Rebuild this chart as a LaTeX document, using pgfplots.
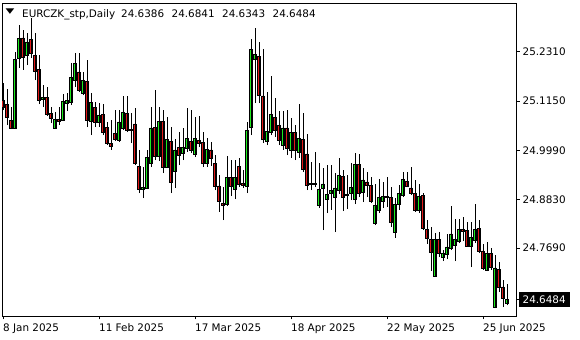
\documentclass[border=0pt]{standalone}
\usepackage{pgfplots}
\usepackage{pgfplotstable}
\usepackage{fontspec}
\setmainfont{DejaVu Sans}
\pgfplotsset{compat=1.18}
\definecolor{bull}{RGB}{30,235,30}
\definecolor{bear}{RGB}{225,25,25}

% daily candles: index, open, high, low, close
\pgfplotstableread{
i o h l c
0 25.1173 25.1573 25.0938 25.1008
1 25.1079 25.1432 25.0585 25.0773
2 25.0703 25.1008 25.0491 25.0515
3 25.0515 25.2303 25.0491 25.2138
4 25.2162 25.2938 25.1927 25.2633
5 25.2633 25.2821 25.1880 25.2185
6 25.2232 25.2750 25.1997 25.2539
7 25.2609 25.3104 25.2162 25.2279
8 25.2232 25.2750 25.1644 25.1856
9 25.1903 25.2232 25.1079 25.1173
10 25.1197 25.1526 25.1008 25.1244
11 25.1244 25.1479 25.0797 25.0844
12 25.0867 25.1008 25.0632 25.0750
13 25.0515 25.0891 25.0491 25.0726
14 25.0726 25.1008 25.0585 25.0679
15 25.0703 25.1315 25.0679 25.1149
16 25.1102 25.1338 25.0914 25.1173
17 25.1126 25.2044 25.1055 25.1715
18 25.1644 25.2279 25.1479 25.2044
19 25.1833 25.2279 25.1362 25.1409
20 25.1338 25.1833 25.1291 25.1644
21 25.1620 25.2115 25.0538 25.0703
22 25.0679 25.1338 25.0349 25.1126
23 25.1008 25.1126 25.0538 25.0656
24 25.0656 25.1102 25.0538 25.0820
25 25.0844 25.1079 25.0349 25.0420
26 25.0538 25.0656 25.0114 25.0161
27 25.0161 25.0703 24.9997 25.0091
28 25.0396 25.0938 25.0208 25.0255
29 25.0232 25.0938 25.0185 25.0656
30 25.0515 25.1268 25.0467 25.0891
31 25.0867 25.1268 25.0420 25.0467
32 25.0491 25.0867 25.0161 25.0467
33 25.0609 25.0985 24.9643 24.9690
34 24.9620 24.9997 24.8984 24.9079
35 24.9079 24.9596 24.8867 24.9126
36 24.9103 24.9997 24.9079 24.9832
37 24.9690 25.1008 24.9596 25.0515
38 25.0538 25.1409 24.9761 24.9856
39 24.9856 25.1008 24.9737 25.0679
40 25.0679 25.0938 24.9455 24.9596
41 24.9596 25.0773 24.9573 25.0255
42 25.0208 25.0538 24.8984 24.9244
43 24.9502 25.0255 24.9103 24.9997
44 25.0067 25.0420 24.9643 24.9879
45 24.9926 25.0515 24.9761 25.0067
46 25.0044 25.0985 24.9950 25.0279
47 25.0208 25.0938 24.9926 24.9997
48 24.9903 25.0773 24.9832 25.0279
49 25.0232 25.0797 25.0067 25.0161
50 25.0185 25.0420 24.9596 24.9690
51 24.9690 25.0279 24.9596 25.0020
52 24.9997 25.0185 24.9620 24.9809
53 24.9690 24.9879 24.9055 24.9150
54 24.9150 24.9408 24.8538 24.8796
55 24.8749 24.9126 24.8349 24.8702
56 24.8726 24.9856 24.8679 24.9361
57 24.9361 24.9761 24.8914 24.9150
58 24.9079 24.9761 24.8843 24.9361
59 24.9620 24.9809 24.9126 24.9197
60 24.9220 24.9526 24.9103 24.9173
61 24.9150 25.0656 24.8984 25.0467
62 25.0538 25.2609 25.0349 25.2374
63 25.2138 25.2868 25.1102 25.2256
64 25.2209 25.2539 25.1102 25.1291
65 25.1268 25.2374 25.0161 25.0255
66 25.0208 25.1362 25.0114 25.0443
67 25.0420 25.1739 25.0349 25.0844
68 25.0773 25.1221 25.0302 25.0467
69 25.0585 25.0914 25.0114 25.0232
70 25.0114 25.0914 24.9997 25.0515
71 25.0515 25.0938 24.9879 25.0044
72 24.9997 25.0750 24.9809 25.0420
73 25.0420 25.0585 24.9761 24.9997
74 24.9950 25.1079 24.9809 25.0279
75 25.0255 25.0867 24.9479 24.9549
76 24.9903 25.0373 24.9055 24.9173
77 24.9220 24.9714 24.9055 24.9197
78 24.9197 24.9950 24.9126 24.9220
79 24.8702 24.9690 24.8632 24.9079
80 24.9103 24.9573 24.8114 24.9197
81 24.8843 24.9643 24.8514 24.8961
82 24.8984 24.9643 24.8585 24.9055
83 24.8890 24.9455 24.8067 24.9103
84 24.9055 24.9809 24.8961 24.9408
85 24.9385 24.9526 24.8561 24.8890
86 24.8961 24.9408 24.8608 24.8937
87 24.8984 24.9690 24.8820 24.9126
88 24.8843 24.9926 24.8726 24.9667
89 24.9667 24.9903 24.8890 24.8984
90 24.9008 24.9573 24.8773 24.9291
91 24.9244 24.9479 24.8890 24.9173
92 24.9173 24.9361 24.8749 24.8796
93 24.8278 24.9197 24.8231 24.8702
94 24.8585 24.9314 24.8514 24.8890
95 24.8796 24.9244 24.8632 24.8914
96 24.8914 24.9361 24.8655 24.8890
97 24.8890 24.9126 24.8184 24.8302
98 24.8067 24.8867 24.7926 24.8726
99 24.8726 24.9173 24.8585 24.8984
100 24.8937 24.9479 24.8890 24.9314
101 24.9267 24.9479 24.9126 24.9150
102 24.9103 24.9596 24.8937 24.8984
103 24.8984 24.9291 24.8538 24.8585
104 24.8585 24.9197 24.8514 24.8914
105 24.8937 24.8984 24.8114 24.8161
106 24.8137 24.8349 24.7785 24.7926
107 24.7902 24.8184 24.7149 24.7596
108 24.7032 24.8043 24.7008 24.7902
109 24.7902 24.8067 24.7478 24.7572
110 24.7478 24.7643 24.7384 24.7572
111 24.7549 24.8020 24.7431 24.7714
112 24.7690 24.8679 24.7643 24.8020
113 24.7761 24.8373 24.7384 24.7902
114 24.7855 24.8373 24.7808 24.8137
115 24.8137 24.8420 24.7855 24.8090
116 24.8114 24.8302 24.7714 24.7737
117 24.7737 24.8302 24.7243 24.7949
118 24.7879 24.8726 24.7808 24.8137
119 24.8161 24.8349 24.7572 24.7620
120 24.7620 24.7785 24.7173 24.7220
121 24.7173 24.7832 24.7149 24.7572
122 24.7572 24.7690 24.7173 24.7243
123 24.6301 24.7525 24.6278 24.7220
124 24.7196 24.7361 24.6655 24.6773
125 24.6773 24.6937 24.6301 24.6513
126 24.6386 24.6841 24.6343 24.6484
}\candles

\begin{document}
\begin{tikzpicture}
\fontsize{10.4bp}{12bp}\selectfont
\path[use as bounding box] (-2bp,-24bp) rectangle (578bp,316bp);
\begin{axis}[
  scale only axis, width=514bp, height=312.5bp,
  xmin=-0.25, xmax=128.25,
  ymin=24.6090, ymax=25.3445,
  enlargelimits=false,
  ybar stacked, bar width=2.7bp,
  axis line style={black, line width=0.9bp},
  tick align=outside, major tick length=3.5bp,
  tick style={black, line width=0.8bp},
  xtick pos=bottom, ytick pos=right, yticklabel pos=right,
  xtick={0,24,48,72,96,120},
  xticklabels={8 Jan 2025,11 Feb 2025,17 Mar 2025,18 Apr 2025,22 May 2025,25 Jun 2025},
  ytick={24.769,24.883,24.999,25.115,25.231},
  yticklabels={24.7690,24.8830,24.9990,25.1150,25.2310},
  extra y ticks={24.6484}, extra y tick labels={24.6484},
  extra y tick style={yticklabel style={fill=black, text=white, inner xsep=4bp, inner ysep=3.5bp, xshift=-4bp}},
  tick label style={font=\fontsize{10.4bp}{12bp}\selectfont},
  xticklabel style={anchor=north west, inner sep=0pt, yshift=-4bp},
  yticklabel style={anchor=west, inner sep=0pt, xshift=3bp},
]
% wicks: invisible base up to the low, error bar up to the high
\addplot[draw=none, fill=none, forget plot,
  error bars/.cd, y dir=plus, y explicit, error mark=none,
  error bar style={draw=black, line width=0.9bp}]
  table[x=i, y=l, y error expr=\thisrow{h}-\thisrow{l}] {\candles};
\addplot[draw=none, fill=none, forget plot]
  table[x=i, y expr={min(\thisrow{o},\thisrow{c})-\thisrow{l}}] {\candles};
\addplot[draw=black, line width=0.5bp, fill=bull]
  table[x=i, y expr={max(\thisrow{c}-\thisrow{o},0)}] {\candles};
\addplot[draw=black, line width=0.5bp, fill=bear]
  table[x=i, y expr={max(\thisrow{o}-\thisrow{c},0)}] {\candles};

\node[anchor=center, inner sep=0pt, xshift=8bp, yshift=-8bp] at (rel axis cs:0,1) {\scalebox{1.1}[0.7]{▼}};
\node[anchor=base west, inner sep=0pt, xshift=20bp, yshift=-13.5bp] at (rel axis cs:0,1) {EURCZK\_stp,Daily};
\node[anchor=base west, inner sep=0pt, xshift=119bp, yshift=-13.5bp] at (rel axis cs:0,1)
  {24.6386\hspace{7.5bp}24.6841\hspace{7.5bp}24.6343\hspace{7.5bp}24.6484};
\end{axis}
\end{tikzpicture}
\end{document}
